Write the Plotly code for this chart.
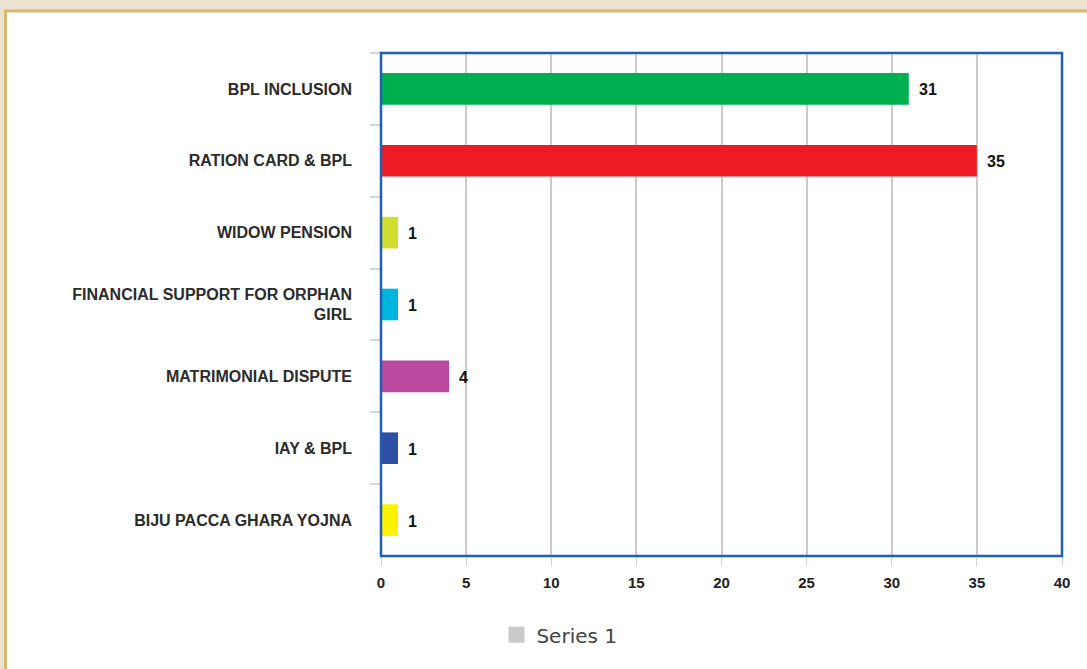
import plotly.graph_objects as go

# Complaint categories and counts
categories = [
    "BPL INCLUSION",
    "RATION CARD & BPL",
    "WIDOW PENSION",
    "FINANCIAL SUPPORT FOR ORPHAN<br>GIRL",
    "MATRIMONIAL DISPUTE",
    "IAY & BPL",
    "BIJU PACCA GHARA YOJNA",
]
counts = [31, 35, 1, 1, 4, 1, 1]
bar_colors = ["#00b050", "#ed1c24", "#d2de32", "#00b4e0", "#b94aa0", "#2e4fa3", "#fff200"]
x_ticks = [0, 5, 10, 15, 20, 25, 30, 35, 40]
series_name = "Series 1"

W, H = 1087, 669
L, R, T, B = 381, 25, 53, 113
pw, ph = W - L - R, H - T - B

LABEL_FONT = dict(family="Liberation Sans", size=16, color="#2b2b2b", weight="bold")


def px_x(p):
    return (p - L) / pw


def px_y(p):
    return (H - B - p) / ph


fig = go.Figure()
fig.add_trace(go.Bar(
    y=categories,
    x=counts,
    orientation="h",
    width=0.44,
    marker=dict(color=bar_colors, line=dict(width=0)),
    showlegend=False,
    hoverinfo="skip",
))
# Legend entry
fig.add_trace(go.Scatter(
    x=[None], y=[None], mode="markers", name=series_name,
    marker=dict(symbol="square", size=22, color="#c8cacc"),
))

# value labels just right of each bar end
annotations = [
    dict(x=v, y=c, xref="x", yref="y", text=str(v), showarrow=False,
         xanchor="left", xshift=8, yshift=-1,
         font=dict(family="Liberation Sans", size=16, color="#111111", weight="bold"))
    for c, v in zip(categories, counts)
]

shapes = [
    # white panel with gold edge
    dict(type="rect", xref="paper", yref="paper", layer="below",
         x0=px_x(5.5), x1=px_x(W + 60), y0=px_y(H + 30), y1=px_y(11),
         fillcolor="white", line=dict(color="#d6b774", width=3)),
    # plot frame
    dict(type="rect", xref="paper", yref="paper", layer="above",
         x0=0, x1=1, y0=0, y1=1,
         line=dict(color="#1f5fb8", width=2.5)),
]

fig.update_layout(
    width=W, height=H,
    margin=dict(l=L, r=R, t=T, b=B),
    paper_bgcolor="#ebe3cf",
    plot_bgcolor="white",
    shapes=shapes,
    annotations=annotations,
    showlegend=True,
    legend=dict(
        orientation="h", x=0.262, xanchor="center", y=-0.118, yanchor="top",
        font=dict(family="DejaVu Sans", size=20, color="#444444"),
        bgcolor="rgba(0,0,0,0)",
    ),
    xaxis=dict(
        range=[0, 40], tickvals=x_ticks,
        showgrid=True, gridcolor="#cbcbcf", gridwidth=1.5,
        zeroline=False, showline=False,
        ticks="outside", ticklen=9, tickcolor="#cdd6e6", tickwidth=1,
        ticklabelstandoff=4,
        tickfont=dict(family="Liberation Sans", size=15, color="#222222", weight="bold"),
        fixedrange=True,
    ),
    yaxis=dict(
        autorange="reversed",
        tickson="boundaries",
        ticks="outside", ticklen=10, tickcolor="#cdd6e6", tickwidth=1.5,
        ticklabelstandoff=28,
        showgrid=False, zeroline=False, showline=False,
        tickfont=LABEL_FONT,
        fixedrange=True,
    ),
)

fig.write_html("out.html")
